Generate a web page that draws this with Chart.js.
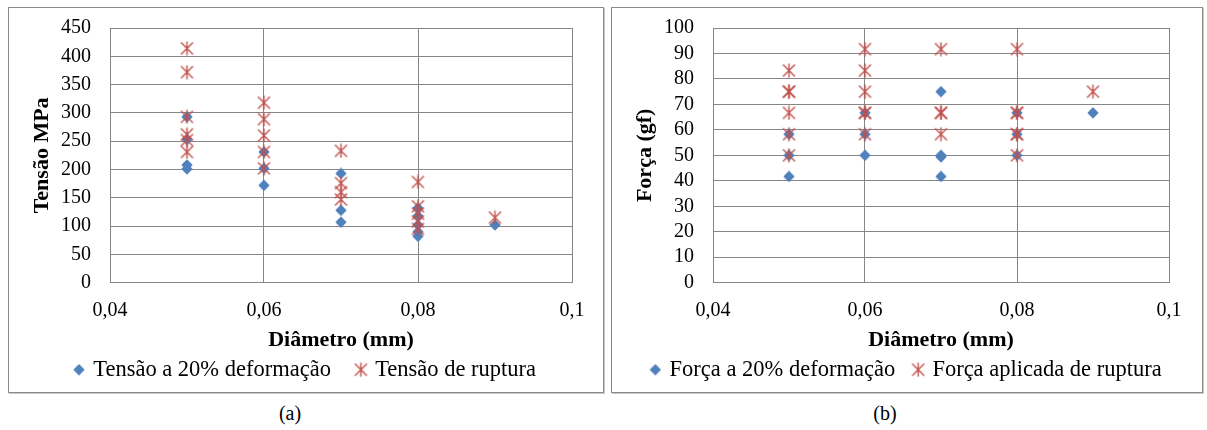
<!DOCTYPE html>
<html>
<head>
<meta charset="utf-8">
<script src="https://cdn.jsdelivr.net/npm/chart.js@4"></script>
<style>
    body { margin: 0; background: #fff; width: 1207px; height: 430px; position: relative; font-family: 'Liberation Serif', serif; }
    .box { position: absolute; top: 7px; height: 384px; border: 1px solid #8a8a8a; box-shadow: 1px 1px 0 #c9c9c9; }
    #boxA { left: 8px; width: 594px; }
    #boxB { left: 611px; width: 590px; }
    .cap { position: absolute; top: 403px; width: 50px; font-size: 20px; line-height: 20px; text-align: center; }
</style>
</head>
<body>
<div class="box" id="boxA"><canvas id="chartA"></canvas></div>
<div class="box" id="boxB"><canvas id="chartB"></canvas></div>
<div class="cap" style="left:265px">(a)</div>
<div class="cap" style="left:860px">(b)</div>
<script>
// (a) Tensão x Diâmetro
const tensaoDiam20 = [0.05, 0.05, 0.05, 0.05, 0.06, 0.06, 0.06, 0.07, 0.07, 0.07, 0.08, 0.08, 0.08, 0.08, 0.08, 0.09];
const tensao20 = [293, 253, 208, 201, 231, 202, 172, 193, 128, 107, 132, 118, 102, 90, 82, 102];
const tensaoDiamRup = [0.05, 0.05, 0.05, 0.05, 0.05, 0.05, 0.06, 0.06, 0.06, 0.06, 0.06, 0.07, 0.07, 0.07, 0.07, 0.08, 0.08, 0.08, 0.08, 0.08, 0.09];
const tensaoRup = [414, 372, 293, 262, 252, 231, 318, 289, 260, 231, 202, 233, 176, 160, 147, 178, 135, 122, 108, 95, 115];

// (b) Força x Diâmetro
const forcaDiam20 = [0.05, 0.05, 0.05, 0.06, 0.06, 0.06, 0.07, 0.07, 0.07, 0.07, 0.08, 0.08, 0.08, 0.09];
const forca20 = [58.3, 50, 41.7, 66.7, 58.3, 50, 75, 50, 49.4, 41.7, 66.7, 58.3, 50, 66.7];
const forcaDiamRup = [0.05, 0.05, 0.05, 0.05, 0.05, 0.05, 0.06, 0.06, 0.06, 0.06, 0.06, 0.06, 0.07, 0.07, 0.07, 0.07, 0.08, 0.08, 0.08, 0.08, 0.08, 0.08, 0.09];
const forcaRup = [83.3, 75, 75, 66.7, 58.3, 50, 91.7, 83.3, 75, 66.7, 66.7, 58.3, 91.7, 66.7, 66.7, 58.3, 91.7, 66.7, 66.7, 58.3, 58.3, 50, 75];

const xTicks = { min: 0.04, max: 0.1, step: 0.02 };

const serif = "'Liberation Serif', 'Times New Roman', serif";
const gridColor = '#868686';
const legendSize = 22.5;
const canvasH = 384;
const plotBottom = 274.7;   // bottom of the plot area inside the canvas

function diamond() {
    const c = document.createElement('canvas');
    c.width = 12; c.height = 12;
    const g = c.getContext('2d');
    g.fillStyle = '#4F81BD';
    g.beginPath();
    g.moveTo(6, 0.3); g.lineTo(11.7, 6); g.lineTo(6, 11.7); g.lineTo(0.3, 6);
    g.closePath();
    g.fill();
    return c;
}

function star() {
    const c = document.createElement('canvas');
    c.width = 15; c.height = 15;
    const g = c.getContext('2d');
    g.strokeStyle = '#C0504D';
    g.lineWidth = 1.4;
    g.beginPath();
    g.moveTo(1.5, 1.5); g.lineTo(13.5, 13.5);
    g.moveTo(13.5, 1.5); g.lineTo(1.5, 13.5);
    g.moveTo(7.5, 0.5); g.lineTo(7.5, 14.5);
    g.stroke();
    return c;
}

function points(xs, ys) {
    return xs.map((x, i) => ({ x: x, y: ys[i] }));
}

function scatter(id, labels, xs1, ys1, xs2, ys2, yMax, yStep, yTitle, padRight, legendPad) {
    // legend sits at the bottom; the x axis fills what is left above it
    const legendTop = canvasH - 1 - (legendSize + legendPad + 10);
    const xAxisH = legendTop - plotBottom;
    const xTitlePad = legendTop - 11 - 332;

    new Chart(document.getElementById(id), {
        type: 'scatter',
        data: {
            datasets: [{
                label: labels[0],
                data: points(xs1, ys1),
                pointStyle: diamond(),
                pointRadius: 6,
                order: 1
            }, {
                label: labels[1],
                data: points(xs2, ys2),
                pointStyle: star(),
                pointRadius: 7,
                order: 0
            }]
        },
        options: {
            responsive: true,
            maintainAspectRatio: false,
            animation: false,
            layout: { padding: { top: 20, right: 0, bottom: 1, left: 0 } },
            plugins: {
                tooltip: { enabled: false },
                legend: {
                    position: 'bottom',
                    labels: {
                        usePointStyle: true,
                        boxWidth: 6,
                        padding: legendPad,
                        color: '#000',
                        font: { family: serif, size: legendSize },
                        sort: (a, b) => a.datasetIndex - b.datasetIndex
                    }
                }
            },
            scales: {
                x: {
                    type: 'linear',
                    min: xTicks.min,
                    max: xTicks.max,
                    afterFit: s => { s.height = xAxisH; },
                    ticks: {
                        stepSize: xTicks.step,
                        padding: 0,
                        color: '#000',
                        font: { family: serif, size: 20 },
                        callback: v => String(+v.toFixed(2)).replace('.', ',')
                    },
                    grid: { color: gridColor, drawTicks: true, tickLength: 16.5, tickColor: 'rgba(0,0,0,0)' },
                    border: { color: gridColor },
                    title: {
                        display: true,
                        text: 'Diâmetro (mm)',
                        color: '#000',
                        font: { family: serif, size: 22, weight: 'bold', lineHeight: 1 },
                        padding: { top: 0, bottom: xTitlePad }
                    }
                },
                y: {
                    min: 0,
                    max: yMax,
                    afterFit: s => { s.width = 101; },
                    ticks: {
                        stepSize: yStep,
                        autoSkip: false,
                        padding: 0,
                        color: '#000',
                        font: { family: serif, size: 20 }
                    },
                    grid: { color: gridColor, drawTicks: true, tickLength: 19, tickColor: 'rgba(0,0,0,0)' },
                    border: { color: gridColor },
                    title: {
                        display: true,
                        text: yTitle,
                        color: '#000',
                        font: { family: serif, size: 22, weight: 'bold', lineHeight: 1 },
                        padding: { top: 22, bottom: 0 }
                    }
                },
                // empty strip on the right so the legend stays centred on the whole box
                gap: {
                    type: 'linear',
                    position: 'right',
                    afterFit: s => { s.width = padRight; },
                    ticks: { display: false },
                    grid: { display: false },
                    border: { display: false }
                }
            }
        }
    });
}

scatter('chartA', ['Tensão a 20% deformação', 'Tensão de ruptura'],
    tensaoDiam20, tensao20, tensaoDiamRup, tensaoRup, 450, 50, 'Tensão MPa', 31, 27);
scatter('chartB', ['Força a 20% deformação', 'Força aplicada de ruptura'],
    forcaDiam20, forca20, forcaDiamRup, forcaRup, 100, 10, 'Força (gf)', 33, 20);
</script>
</body>
</html>
